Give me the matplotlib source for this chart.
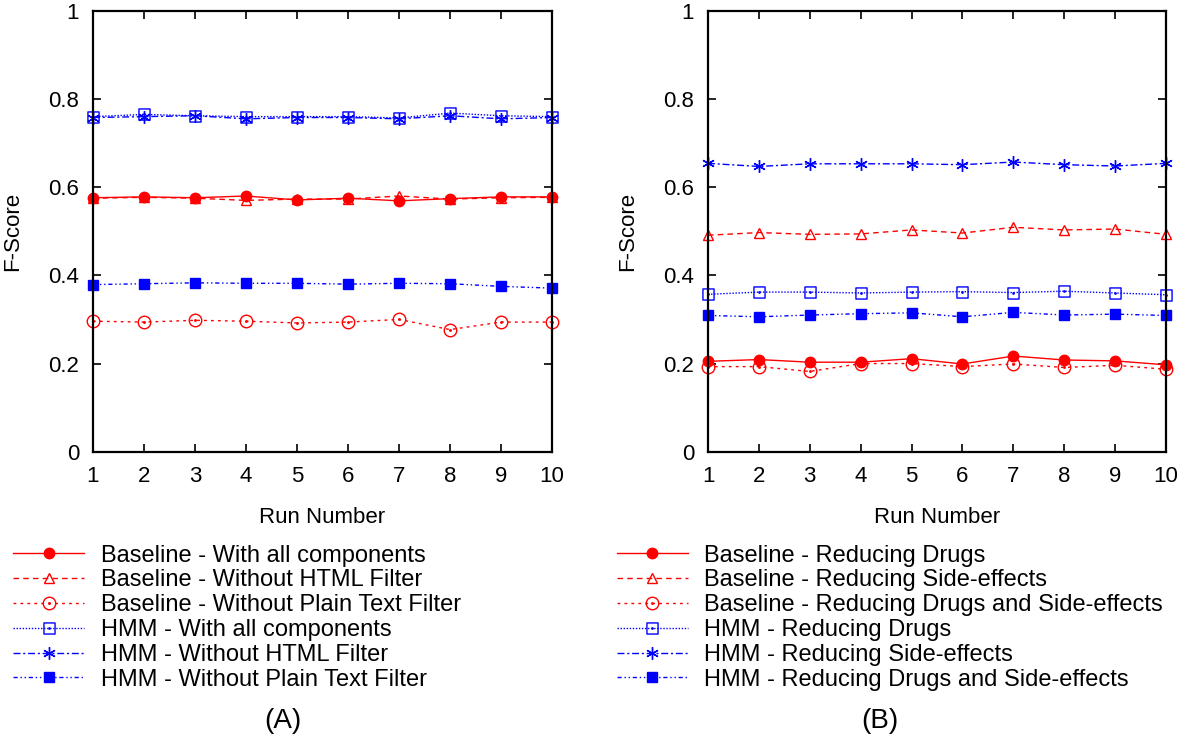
import matplotlib
matplotlib.use("Agg")
import matplotlib.pyplot as plt
import numpy as np
from matplotlib.path import Path
from matplotlib.ticker import FormatStrFormatter

plt.rcParams["font.family"] = ["Liberation Sans", "DejaVu Sans"]

runs = list(range(1, 11))

# panel (A)
labels_a = [
    "Baseline - With all components",
    "Baseline - Without HTML Filter",
    "Baseline - Without Plain Text Filter",
    "HMM - With all components",
    "HMM - Without HTML Filter",
    "HMM - Without Plain Text Filter",
]
base_all = [0.576, 0.578, 0.576, 0.580, 0.571, 0.575, 0.569, 0.574, 0.578, 0.578]
base_no_html = [0.575, 0.577, 0.575, 0.570, 0.573, 0.573, 0.580, 0.573, 0.576, 0.577]
base_no_plain = [0.296, 0.294, 0.298, 0.296, 0.292, 0.294, 0.300, 0.277, 0.294, 0.294]
hmm_all = [0.760, 0.765, 0.762, 0.760, 0.760, 0.760, 0.757, 0.768, 0.762, 0.760]
hmm_no_html = [0.758, 0.760, 0.762, 0.755, 0.758, 0.758, 0.755, 0.762, 0.755, 0.758]
hmm_no_plain = [0.379, 0.381, 0.383, 0.382, 0.382, 0.380, 0.382, 0.381, 0.375, 0.371]

# panel (B)
labels_b = [
    "Baseline - Reducing Drugs",
    "Baseline - Reducing Side-effects",
    "Baseline - Reducing Drugs and Side-effects",
    "HMM - Reducing Drugs",
    "HMM - Reducing Side-effects",
    "HMM - Reducing Drugs and Side-effects",
]
base_drugs = [0.205, 0.209, 0.203, 0.203, 0.211, 0.199, 0.217, 0.208, 0.206, 0.197]
base_side = [0.491, 0.497, 0.493, 0.494, 0.503, 0.496, 0.509, 0.503, 0.505, 0.493]
base_both = [0.193, 0.193, 0.182, 0.200, 0.200, 0.193, 0.199, 0.191, 0.196, 0.187]
hmm_drugs = [0.357, 0.362, 0.362, 0.360, 0.362, 0.363, 0.361, 0.364, 0.360, 0.356]
hmm_side = [0.654, 0.647, 0.653, 0.653, 0.653, 0.651, 0.657, 0.651, 0.648, 0.654]
hmm_both = [0.309, 0.306, 0.310, 0.313, 0.315, 0.306, 0.316, 0.310, 0.312, 0.309]

RED = "#ff0000"
BLUE = "#0000ff"

# open markers with a small dot in the middle, like the gnuplot ones
circ_dot = Path.make_compound_path(Path.unit_circle(), Path.circle(radius=0.12))
sq = Path([(-1, -1), (1, -1), (1, 1), (-1, 1), (-1, -1)],
          [Path.MOVETO, Path.LINETO, Path.LINETO, Path.LINETO, Path.CLOSEPOLY])
sq_dot = Path.make_compound_path(sq, Path.circle(radius=0.12))

styles = [
    dict(color=RED, ls="-", marker="o", mfc=RED, ms=7.5),
    dict(color=RED, ls=(0, (4, 3)), marker="^", mfc="none", ms=7.5),
    dict(color=RED, ls=(0, (2, 3)), marker=circ_dot, mfc="none", ms=9),
    dict(color=BLUE, ls=(0, (1, 1.2)), marker=sq_dot, mfc="none", ms=8),
    dict(color=BLUE, ls=(0, (5, 2, 1.5, 2)), marker=(6, 2, 0), mfc="none", ms=9),
    dict(color=BLUE, ls=(0, (3, 2, 1, 2, 1, 2)), marker="s", mfc=BLUE, ms=7),
]

fig = plt.figure(figsize=(12, 7.46), dpi=100)
ax_a = fig.add_axes([0.0775, 0.3945, 0.3825, 0.591])
ax_b = fig.add_axes([0.59, 0.3945, 0.3817, 0.591])

series_a = [base_all, base_no_html, base_no_plain, hmm_all, hmm_no_html, hmm_no_plain]
series_b = [base_drugs, base_side, base_both, hmm_drugs, hmm_side, hmm_both]

for ax, series, labels, leg_x, tag_x, tag in [
    (ax_a, series_a, labels_a, 0.011, 0.236, "(A)"),
    (ax_b, series_b, labels_b, 0.514, 0.733, "(B)"),
]:
    for vals, lab, st in zip(series, labels, styles):
        ax.plot(runs, vals, label=lab, lw=1.0, mew=1.0, mec=st["color"], clip_on=False, **st)
    ax.set_xlim(1, 10)
    ax.set_ylim(0, 1)
    ax.set_xticks(runs)
    ax.set_yticks(np.arange(0, 1.01, 0.2))
    ax.yaxis.set_major_formatter(FormatStrFormatter("%g"))
    ax.tick_params(direction="in", top=True, right=True, length=6, width=1.2,
                   labelsize=16, pad=10)
    for sp in ax.spines.values():
        sp.set_linewidth(1.6)
    ax.set_xlabel("Run Number", fontsize=16, labelpad=15)
    ax.set_ylabel("F-Score", fontsize=16, labelpad=18)
    fig.legend(*ax.get_legend_handles_labels(), loc="upper left",
               bbox_to_anchor=(leg_x, 0.27), frameon=False, fontsize=17,
               handlelength=3.0, handletextpad=0.7, labelspacing=0.12,
               borderaxespad=0, borderpad=0)
    fig.text(tag_x, 0.034, tag, fontsize=20, ha="center", va="center")

fig.savefig("out.png", dpi=100)
